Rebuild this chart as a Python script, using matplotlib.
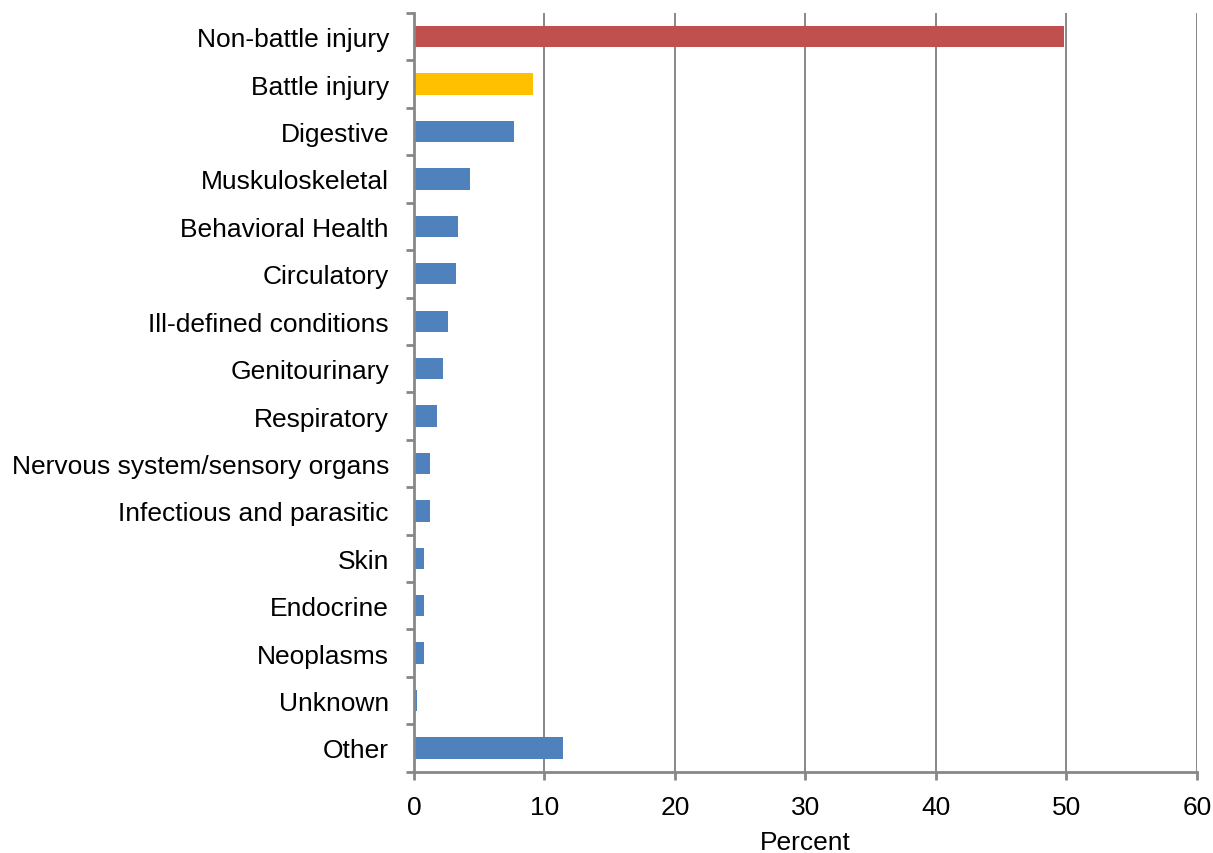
import numpy as np
import matplotlib.pyplot as plt
from matplotlib.ticker import FixedLocator

# Share of cases by diagnostic category (percent)
categories = [
    "Non-battle injury", "Battle injury", "Digestive", "Muskuloskeletal",
    "Behavioral Health", "Circulatory", "Ill-defined conditions",
    "Genitourinary", "Respiratory", "Nervous system/sensory organs",
    "Infectious and parasitic", "Skin", "Endocrine", "Neoplasms",
    "Unknown", "Other",
]
percent = [49.8, 9.1, 7.7, 4.3, 3.4, 3.2, 2.6, 2.2, 1.8, 1.2, 1.2, 0.8, 0.8, 0.8, 0.2, 11.4]
x_ticks = [0, 10, 20, 30, 40, 50, 60]

plt.rcParams['font.family'] = ['Liberation Sans', 'DejaVu Sans']

colors = ["#C0504D", "#FFC000"] + ["#4F81BD"] * (len(categories) - 2)
grey = "#878787"

fig = plt.figure(figsize=(12.13, 8.54), dpi=100)
ax = fig.add_axes([0.3413, 0.0952, 0.6455, 0.8884])

y = np.arange(len(categories))
ax.barh(y, percent, height=0.45, color=colors, zorder=3)

ax.set_xlim(0, 60)
ax.set_ylim(len(categories) - 0.5, -0.5)
ax.set_xticks(x_ticks)
ax.set_yticks(y)
ax.set_yticklabels(categories)
ax.yaxis.set_minor_locator(FixedLocator(np.arange(len(categories) + 1) - 0.5))

ax.tick_params(axis='y', which='major', length=0, pad=18, labelsize=19)
ax.tick_params(axis='y', which='minor', length=6, width=2, color=grey, direction='out')
ax.tick_params(axis='x', which='major', length=6, width=2, color=grey, direction='out',
               labelsize=19, pad=11)

ax.grid(axis='x', color=grey, linewidth=1.4, zorder=0)
ax.set_axisbelow(True)

for side in ['top', 'right']:
    ax.spines[side].set_visible(False)
for side in ['left', 'bottom']:
    ax.spines[side].set_color(grey)
    ax.spines[side].set_linewidth(2)
    ax.spines[side].set_zorder(4)

ax.set_xlabel("Percent", fontsize=19, labelpad=8)

fig.savefig("out.png", dpi=100)
